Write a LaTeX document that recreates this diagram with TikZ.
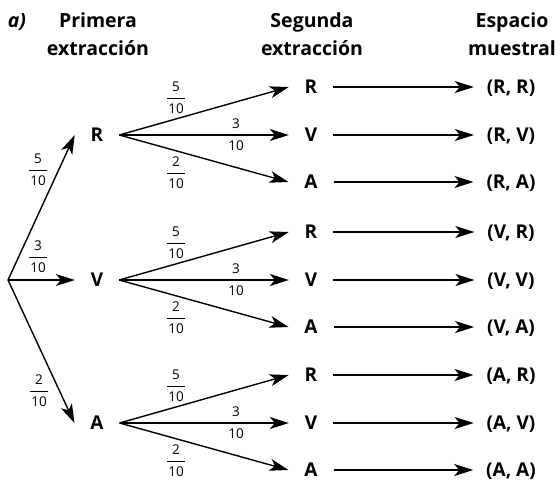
\documentclass[tikz,border=0pt]{standalone}
\usepackage{fontspec}
\setmainfont{Open Sans}
\usetikzlibrary{arrows.meta}
\begin{document}
\begin{tikzpicture}[x=1pt,y=-1pt,
  arr/.style={line width=1.4pt,-{Stealth[length=19pt,width=12pt,inset=5pt]}},
  lab/.style={font=\fontsize{19}{22}\selectfont\bfseries, inner sep=0pt, outer xsep=16pt, outer ysep=0pt, text height=13.5pt, text depth=0pt},
  res/.style={lab, outer xsep=13pt},
  hdr/.style={font=\fontsize{19.5}{28}\selectfont\bfseries, align=center, inner sep=0pt, anchor=base},
  fr/.style={font=\fontsize{13.5}{15}\selectfont, inner sep=0pt}]
\useasboundingbox (0,0) rectangle (560,483);
\newcommand\myfrac[2]{\renewcommand\arraystretch{1.45}\begin{tabular}{@{\hspace{1.5pt}}c@{\hspace{1.5pt}}}#1\\\hline #2\end{tabular}}

% headers
\node[hdr] (ha) at (17,27) {\itshape a)};
\node[hdr] (h1) at (98,55) {Primera\\extracción};
\node[hdr] (h2) at (312,55) {Segunda\\extracción};
\node[hdr] (h3) at (512,55) {Espacio\\muestral};

% root
\coordinate (O) at (8,280);

% first level
\node[lab] (R) at (97,135) {R};
\node[lab] (V) at (97,280) {V};
\node[lab] (A) at (97,423) {A};
\draw[arr] (O) -- (R.west);
\draw[arr] (O) -- (V.west);
\draw[arr] (O) -- (A.west);
\node[fr] (f1) at (38,170) {\myfrac{5}{10}};
\node[fr] (f2) at (38,257) {\myfrac{3}{10}};
\node[fr] (f3) at (39,391) {\myfrac{2}{10}};

% second level
\foreach \g/\c/\p in {R/135/R, V/280/V, A/423/A}{
  \node[lab] (\g R) at (311,\c-48) {R};
  \node[lab] (\g V) at (311,\c) {V};
  \node[lab] (\g A) at (311,\c+47) {A};
  \draw[arr] (\g.east) -- (\g R.west);
  \draw[arr] (\g.east) -- (\g V.west);
  \draw[arr] (\g.east) -- (\g A.west);
  \node[fr] (\g f1) at (176,\c-37) {\myfrac{5}{10}};
  \node[fr] (\g f2) at (236,\c) {\myfrac{3}{10}};
  \node[fr] (\g f3) at (176,\c+38) {\myfrac{2}{10}};
  \node[res] (\g rR) at (511,\c-48) {(\p, R)};
  \node[res] (\g rV) at (511,\c) {(\p, V)};
  \node[res] (\g rA) at (511,\c+47) {(\p, A)};
  \draw[arr] (\g R.east) -- (\g rR.west);
  \draw[arr] (\g V.east) -- (\g rV.west);
  \draw[arr] (\g A.east) -- (\g rA.west);
}
\end{tikzpicture}
\end{document}
